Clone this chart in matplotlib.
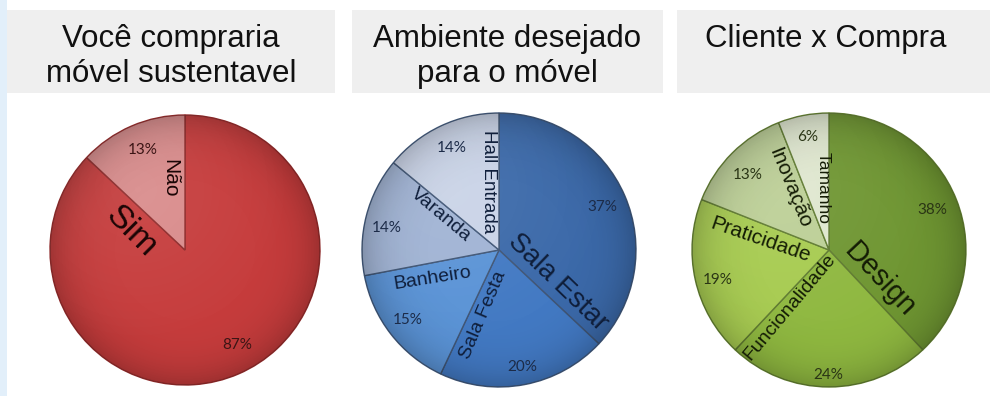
import matplotlib
matplotlib.use("Agg")
import matplotlib.pyplot as plt
import numpy as np
from matplotlib.patches import Rectangle, Circle

# ---------------- data ----------------
title1 = ["Você compraria", "móvel sustentavel"]
title2 = ["Ambiente desejado", "para o móvel"]
title3 = ["Cliente x Compra"]

labels1 = ["Sim", "Não"]
values1 = [87, 13]

labels2 = ["Sala Estar", "Sala Festa", "Banheiro", "Varanda", "Hall Entrada"]
values2 = [37, 20, 15, 14, 14]

labels3 = ["Design", "Funcionalidade", "Praticidade", "Inovação", "Tamanho"]
values3 = [38, 24, 19, 13, 6]

colors1 = ["#c63c3c", "#d98b8b"]
colors2 = ["#3b69a9", "#4279c3", "#5a93d6", "#a0b3d4", "#c9d3e7"]
colors3 = ["#6f9632", "#8fb840", "#a7cb50", "#bccf96", "#dfe7cf"]

# ---------------- layout (pixels) ----------------
W, H = 990, 396
fig = plt.figure(figsize=(W / 100, H / 100), dpi=100)
fig.patch.set_facecolor("white")

# light blue strip on the left
fig.add_artist(Rectangle((0, 0), 7 / W, 1, transform=fig.transFigure,
                         facecolor="#e2effa", edgecolor="none", zorder=0))

title_boxes = [(7, 335), (352, 663), (677, 990)]
title_cx = [171, 507, 826]
titles = [title1, title2, title3]
for (x0, x1), cx, lines in zip(title_boxes, title_cx, titles):
    fig.add_artist(Rectangle((x0 / W, (H - 93) / H), (x1 - x0) / W, 83 / H,
                             transform=fig.transFigure, facecolor="#efefef",
                             edgecolor="none", zorder=0))
    for i, line in enumerate(lines):
        base = 47 + 35 * i
        fig.text(cx / W, 1 - base / H, line, ha="center", va="baseline",
                 fontsize=22.5, family="Liberation Sans", color="#111111")

# pie centers / radius in pixels
pies = [
    dict(cx=185, cy=250, r=135, labels=labels1, values=values1, colors=colors1,
         edge="#8e2a2a", cat_color="#1a0505", pct_color="#3b1515",
         layout=[(-0.400, 0.135, -45, 24.5, 0.385, -0.704),
                 (-0.111, 0.533, -90, 15, -0.311, 0.741)]),
    dict(cx=499, cy=250, r=137, labels=labels2, values=values2, colors=colors2,
         edge="#3f5575", cat_color="#0f1e3a", pct_color="#1c2b48",
         layout=[(0.431, -0.234, -44, 20, 0.752, 0.314),
                 (-0.117, -0.474, 67, 14, 0.168, -0.854),
                 (-0.489, -0.204, 9, 14, -0.664, -0.511),
                 (-0.423, 0.255, -40, 14, -0.818, 0.161),
                 (-0.080, 0.496, -90, 13.5, -0.343, 0.745)]),
    dict(cx=829, cy=250, r=137, labels=labels3, values=values3, colors=colors3,
         edge="#5f7a30", cat_color="#141c05", pct_color="#2a3515",
         layout=[(0.372, -0.219, -47, 21, 0.752, 0.292),
                 (-0.285, -0.416, 50, 14, -0.007, -0.912),
                 (-0.504, 0.073, -19, 15, -0.810, -0.219),
                 (-0.285, 0.453, -68, 15, -0.591, 0.547),
                 (-0.044, 0.453, -90, 12.5, -0.153, 0.825)]),
]

n = 400
xs = np.linspace(-1, 1, n)
X, Y = np.meshgrid(xs, xs)
R = np.sqrt(X ** 2 + Y ** 2)

for p in pies:
    cx, cy, r = p["cx"], p["cy"], p["r"]
    ax = fig.add_axes([(cx - r) / W, (H - cy - r) / H, 2 * r / W, 2 * r / H])
    ax.pie(p["values"], colors=p["colors"], startangle=90, counterclock=False,
           radius=1, wedgeprops=dict(edgecolor=p["edge"], linewidth=1.0))
    # subtle rim shading for a glossy look
    shade = np.zeros((n, n, 4))
    shade[..., 3] = np.clip(0.20 * R ** 6, 0, 0.20)
    im = ax.imshow(shade, extent=(-1, 1, -1, 1), origin="lower", zorder=3,
                   interpolation="bilinear")
    im.set_clip_path(Circle((0, 0), 1, transform=ax.transData))
    hl = np.zeros((n, n, 4))
    hl[..., :3] = 1.0
    d = np.sqrt((X + 0.35) ** 2 + (Y - 0.45) ** 2)
    hl[..., 3] = np.clip(0.08 * (1 - d / 1.2), 0, 0.08)
    im2 = ax.imshow(hl, extent=(-1, 1, -1, 1), origin="lower", zorder=3,
                    interpolation="bilinear")
    im2.set_clip_path(Circle((0, 0), 1, transform=ax.transData))

    for lab, val, (tx, ty, rot, fs, px, py) in zip(p["labels"], p["values"], p["layout"]):
        ax.text(tx, ty, lab, rotation=rot, rotation_mode="anchor",
                ha="center", va="center", fontsize=fs, family="Liberation Sans",
                color=p["cat_color"], zorder=5)
        ax.text(px, py, f"{val}%", ha="center", va="center", fontsize=11,
                family="Lato", color=p["pct_color"], zorder=5)
    ax.set_xlim(-1, 1)
    ax.set_ylim(-1, 1)
    ax.set_aspect("equal")
    ax.axis("off")

fig.savefig("out.png", dpi=100, facecolor="white")
